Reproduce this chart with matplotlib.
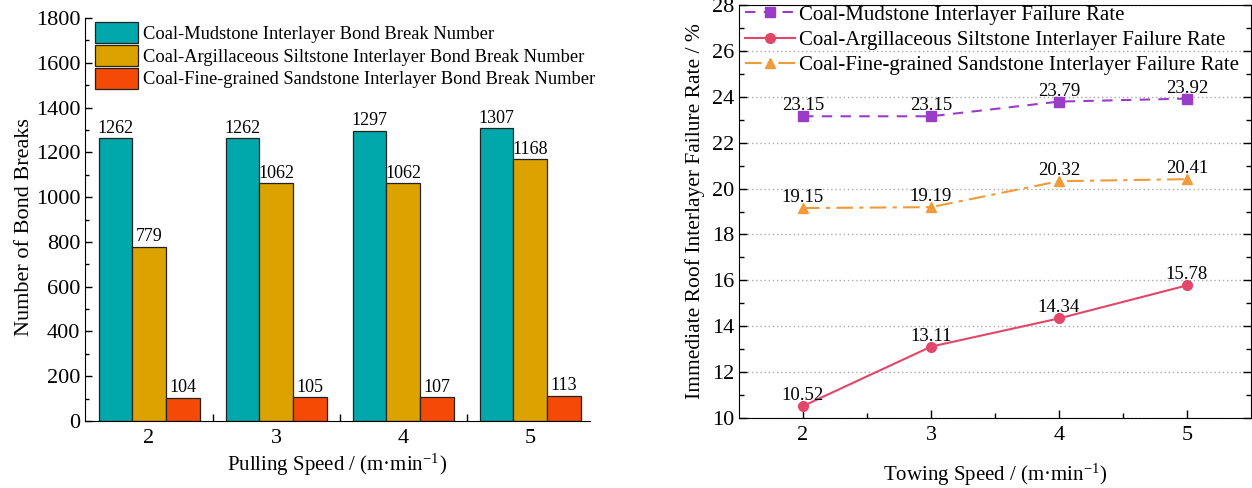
import matplotlib
matplotlib.use("Agg")
import matplotlib.pyplot as plt
import numpy as np
from matplotlib.patches import Patch
from matplotlib.ticker import MultipleLocator, FixedLocator

plt.rcParams['font.family'] = ['Liberation Serif', 'DejaVu Serif']
plt.rcParams['mathtext.fontset'] = 'stix'

# ---- data ----
speeds = [2, 3, 4, 5]
bar_labels = ["Coal-Mudstone Interlayer Bond Break Number",
              "Coal-Argillaceous Siltstone Interlayer Bond Break Number",
              "Coal-Fine-grained Sandstone Interlayer Bond Break Number"]
mudstone_breaks = [1262, 1262, 1297, 1307]
siltstone_breaks = [779, 1062, 1062, 1168]
sandstone_breaks = [104, 105, 107, 113]

line_labels = ["Coal-Mudstone Interlayer Failure Rate",
               "Coal-Argillaceous Siltstone Interlayer Failure Rate",
               "Coal-Fine-grained Sandstone Interlayer Failure Rate"]
mudstone_rate = [23.15, 23.15, 23.79, 23.92]
siltstone_rate = [10.52, 13.11, 14.34, 15.78]
sandstone_rate = [19.15, 19.19, 20.32, 20.41]

bar_colors = ['#00A8AC', '#DCA200', '#F44A06']
line_colors = ['#9A3CC8', '#E2476A', '#F09A3A']

W, H = 1252, 488
fig = plt.figure(figsize=(W / 100, H / 100), dpi=100)

# ---- left chart ----
ax1 = fig.add_axes([85 / W, 1 - 421 / H, (590 - 85) / W, (421 - 18) / H])
bw = 0.265
series = [mudstone_breaks, siltstone_breaks, sandstone_breaks]
x = np.array(speeds, dtype=float)
for i, (vals, c) in enumerate(zip(series, bar_colors)):
    xs = x + (i - 1) * bw
    ax1.bar(xs, vals, width=bw, color=c, edgecolor='#222222', linewidth=0.9,
            label=bar_labels[i], zorder=2)
    for xx, v in zip(xs, vals):
        ax1.text(xx, v + 6, f"{v}", ha='center', va='bottom', fontsize=13)
ax1.set_xlim(1.496, 5.47)
ax1.set_ylim(0, 1800)
ax1.yaxis.set_major_locator(MultipleLocator(200))
ax1.yaxis.set_minor_locator(MultipleLocator(100))
ax1.set_xticks(speeds)
ax1.xaxis.set_minor_locator(FixedLocator([2.5, 3.5, 4.5]))
ax1.tick_params(which='both', direction='in', labelsize=16)
ax1.tick_params(which='major', length=5, width=1)
ax1.tick_params(which='minor', length=3, width=1)
ax1.tick_params(axis='x', which='minor', length=5)
ax1.tick_params(axis='x', which='major', pad=6)
ax1.spines['top'].set_visible(False)
ax1.spines['right'].set_visible(False)
ax1.set_ylabel("Number of Bond Breaks", fontsize=16, labelpad=3)
ax1.yaxis.set_label_coords(-0.1, 0.48)
ax1.set_xlabel("Pulling Speed / (m·min$^{\\mathregular{-1}}$)", fontsize=15, labelpad=2)
handles = [Patch(facecolor=c, edgecolor='#222222', linewidth=0.9) for c in bar_colors]
ax1.legend(handles, bar_labels, loc='upper left', bbox_to_anchor=(0.02, 0.99),
           frameon=False, fontsize=13.3, handlelength=2.3, handleheight=1.35,
           labelspacing=0.12, handletextpad=0.3, borderpad=0, borderaxespad=0)

# ---- right chart ----
ax2 = fig.add_axes([739 / W, 1 - 418 / H, (1251 - 739) / W, (418 - 5) / H])
styles = [dict(ls=(0, (5, 4)), marker='s'), dict(ls='-', marker='o'),
          dict(ls=(0, (8, 3, 2, 3)), marker='^')]
rates = [mudstone_rate, siltstone_rate, sandstone_rate]
for vals, c, st, lab in zip(rates, line_colors, styles, line_labels):
    ax2.plot(speeds, vals, color=c, lw=1.5, markersize=7, label=lab, zorder=3, **st)
    for xx, v in zip(speeds, vals):
        ax2.annotate(f"{v:.2f}", (xx, v), xytext=(0, 1.5), textcoords='offset points',
                     ha='center', va='bottom', fontsize=13.5)
ax2.set_xlim(1.5, 5.5)
ax2.set_ylim(10, 28)
ax2.set_xticks(speeds)
ax2.xaxis.set_minor_locator(FixedLocator([2.5, 3.5, 4.5]))
ax2.yaxis.set_major_locator(MultipleLocator(2))
ax2.yaxis.set_minor_locator(MultipleLocator(1))
ax2.grid(axis='y', which='major', ls=(0, (1, 2)), color='#aaaaaa', lw=1)
ax2.tick_params(which='both', direction='in', labelsize=16, right=True)
ax2.tick_params(which='major', length=6, width=1)
ax2.tick_params(which='minor', length=3.5, width=1)
ax2.tick_params(axis='x', which='major', pad=6)
ax2.set_ylabel("Immediate Roof Interlayer Failure Rate / %", fontsize=15.5, labelpad=5)
ax2.set_xlabel("Towing Speed / (m·min$^{\\mathregular{-1}}$)", fontsize=15, labelpad=12)
ax2.legend(loc='upper left', bbox_to_anchor=(0.012, 1.0), frameon=False, fontsize=15,
           handlelength=2.4, labelspacing=0.28, handletextpad=0.2, borderpad=0,
           borderaxespad=0)

fig.savefig("out.png", dpi=100)
